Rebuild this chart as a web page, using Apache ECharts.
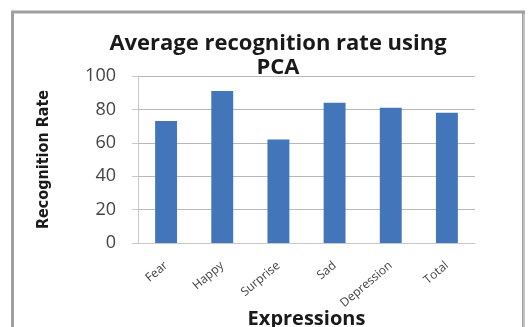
<!DOCTYPE html>
<html>
<head>
<meta charset="utf-8">
<style>
  html, body { margin: 0; padding: 0; background: #fff; }
  #chart { width: 528px; height: 327px; }
</style>
<script src="https://cdn.jsdelivr.net/npm/echarts@6/dist/echarts.min.js"></script>
</head>
<body>
<div id="chart"></div>
<script>
let categories = ['Fear', 'Happy', 'Surprise', 'Sad', 'Depression', 'Total'];
let rates = [73, 91, 62, 84, 81, 78];
let yTicks = [0, 20, 40, 60, 80, 100];

let chart = echarts.init(document.getElementById('chart'));

let option = {
    animation: false,
    backgroundColor: '#fff',
    title: {
        text: 'Average recognition rate using\nPCA',
        left: 273,
        textAlign: 'center',
        top: 27,
        textStyle: {
            fontFamily: 'Open Sans',
            fontSize: 22,
            fontWeight: 'bold',
            color: '#1a1a1a',
            lineHeight: 24
        }
    },
    graphic: [
        {
            type: 'rect',
            shape: { x: 12.5, y: 12, width: 511, height: 340 },
            style: { fill: 'none', stroke: '#a0a0a0', lineWidth: 3 }
        },
        {
            type: 'line',
            shape: { x1: 524, y1: 14, x2: 524, y2: 327 },
            style: { stroke: '#e4e4e4', lineWidth: 1 }
        }
    ],
    grid: {
        top: 76,
        bottom: 84,
        left: 138,
        right: 53,
        outerBoundsMode: 'none'
    },
    xAxis: {
        type: 'category',
        data: categories,
        name: 'Expressions',
        nameLocation: 'middle',
        nameGap: 66,
        nameMoveOverlap: false,
        nameTextStyle: {
            fontFamily: 'Open Sans',
            fontSize: 20,
            fontWeight: 'bold',
            color: '#1a1a1a'
        },
        axisLine: { lineStyle: { color: '#c8c8c8' } },
        axisTick: { show: false },
        axisLabel: {
            rotate: 40,
            interval: 0,
            fontFamily: 'Open Sans',
            fontSize: 12,
            color: '#444',
            margin: 21
        }
    },
    yAxis: {
        type: 'value',
        min: yTicks[0],
        max: yTicks[yTicks.length - 1],
        interval: 20,
        name: 'Recognition Rate',
        nameLocation: 'middle',
        nameGap: 86,
        nameMoveOverlap: false,
        nameTextStyle: {
            fontFamily: 'DejaVu Sans Condensed, DejaVu Sans',
            fontSize: 16,
            fontWeight: 'bold',
            color: '#1a1a1a'
        },
        axisLine: { show: true, lineStyle: { color: '#c8c8c8' } },
        axisTick: { show: true, length: 6, lineStyle: { color: '#c8c8c8' } },
        axisLabel: {
            fontFamily: 'Open Sans',
            fontSize: 18,
            color: '#444',
            margin: 22
        },
        splitLine: { lineStyle: { color: '#b8b8b8' } }
    },
    series: [
        {
            type: 'bar',
            data: rates,
            barWidth: '39%',
            itemStyle: { color: '#4375bb' }
        }
    ]
};

chart.setOption(option);
</script>
</body>
</html>
